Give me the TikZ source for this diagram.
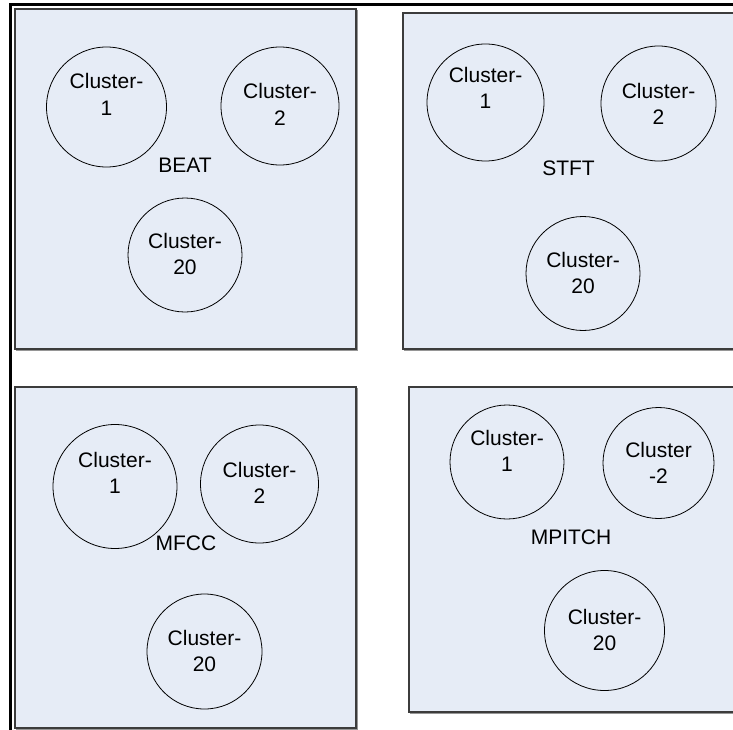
\documentclass[tikz,border=0pt]{standalone}
\usepackage{fontspec}
\setmainfont{Liberation Sans}
\definecolor{panelfill}{RGB}{230,236,246}
\definecolor{panelline}{RGB}{60,60,60}
\definecolor{panelshade}{RGB}{150,150,150}
\tikzset{
  panel/.style={draw=panelline, fill=panelfill, line width=1.2pt},
  panelshadow/.style={draw=panelshade, line width=1.2pt},
  clus/.style={circle, draw=black, line width=0.8pt, inner sep=0pt},
  ctext/.style={font=\fontsize{21}{26.5}\selectfont, align=center, inner sep=0pt},
  ptitle/.style={font=\fontsize{21}{26.5}\selectfont, inner sep=0pt},
  frameline/.style={line width=3.6pt, black}
}
\newcommand{\featpanel}[4]{%
  \draw[panelshadow] (#1+1.5,#2+1.5) rectangle (#3+1.5,#4+1.5);
  \draw[panel] (#1,#2) rectangle (#3,#4);}
\begin{document}
\begin{tikzpicture}[x=1pt,y=-1pt]
\useasboundingbox (0,0) rectangle (733,730);
\clip (0,0) rectangle (733,730);

% four feature panels
\featpanel{15}{9}{356}{349}
\featpanel{403}{13}{745}{349}
\featpanel{15}{387}{356}{728}
\featpanel{409}{387}{745}{712}

% outer frame, left and top sides
\draw[frameline] (10.5,735) -- (10.5,4.5) -- (740,4.5);

% BEAT
\node[clus, minimum size=120] (b1) at (106.5,107) {};
\node[ctext] (b1t) at (106.5,94.5) {Cluster-\\1};
\node[clus, minimum size=118] (b2) at (280,106) {};
\node[ctext] (b2t) at (280,104.5) {Cluster-\\2};
\node[clus, minimum size=114] (b20) at (185,255) {};
\node[ctext] (b20t) at (185,254) {Cluster-\\20};
\node[ptitle] (beat) at (185,165) {BEAT};

% STFT
\node[clus, minimum size=117] (s1) at (485.5,102.5) {};
\node[ctext] (s1t) at (485.5,88) {Cluster-\\1};
\node[clus, minimum size=115] (s2) at (658.5,103.5) {};
\node[ctext] (s2t) at (658.5,104) {Cluster-\\2};
\node[clus, minimum size=114] (s20) at (583,273.5) {};
\node[ctext] (s20t) at (583,273) {Cluster-\\20};
\node[ptitle] (stft) at (568.5,168) {STFT};

% MFCC
\node[clus, minimum size=124] (m1) at (115,486.5) {};
\node[ctext] (m1t) at (115,473) {Cluster-\\1};
\node[clus, minimum size=118] (m2) at (259.5,484) {};
\node[ctext] (m2t) at (259.5,483) {Cluster-\\2};
\node[clus, minimum size=115] (m20) at (204.5,651.5) {};
\node[ctext] (m20t) at (204.5,651) {Cluster-\\20};
\node[ptitle] (mfcc) at (186,543) {MFCC};

% MPITCH
\node[clus, minimum size=114] (p1) at (507,462) {};
\node[ctext] (p1t) at (507,451) {Cluster-\\1};
\node[clus, minimum size=111] (p2) at (658.5,463) {};
\node[ctext] (p2t) at (658.5,463) {Cluster\\-2};
\node[clus, minimum size=120] (p20) at (604.5,630.5) {};
\node[ctext] (p20t) at (604.5,630) {Cluster-\\20};
\node[ptitle] (mpitch) at (571,537) {MPITCH};
\end{tikzpicture}
\end{document}
